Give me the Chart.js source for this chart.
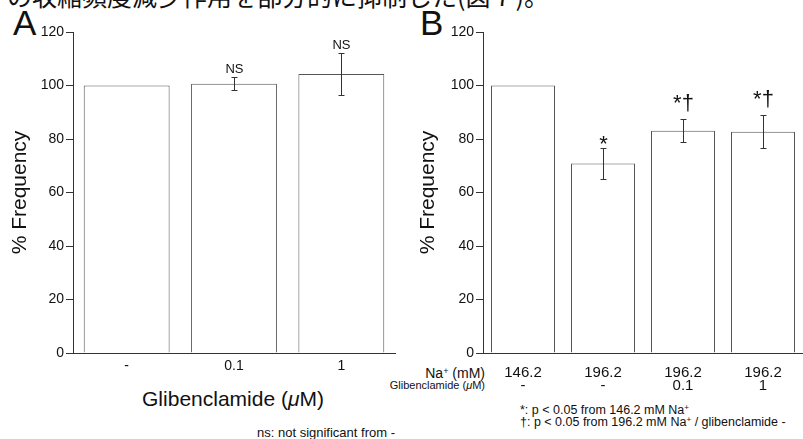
<!DOCTYPE html>
<html>
<head>
<meta charset="utf-8">
<script src="https://cdn.jsdelivr.net/npm/chart.js@4.4.0/dist/chart.umd.min.js"></script>
<style>
    body { margin: 0; background: #fff; width: 803px; height: 439px; overflow: hidden; position: relative;
           font-family: "Liberation Sans", Arial, sans-serif; color: #111; }
    canvas { position: absolute; top: 0; }
    .t { position: absolute; white-space: nowrap; line-height: 1; }
    .sup { font-size: 0.65em; position: relative; top: -0.45em; }
</style>
</head>
<body>
<div class="t" style="left:7px; top:-17px; font-size:25px; font-family:'Noto Sans CJK JP';">の収縮頻度減少作用を部分的に抑制した(図７)。</div>
<div class="t" style="left:13px; top:5px; font-size:35px;">A</div>
<div class="t" style="left:420px; top:5px; font-size:35px;">B</div>
<div class="t" style="left:233px; top:388px; font-size:21px; transform:translateX(-50%);">Glibenclamide (<i>μ</i>M)</div>
<div class="t" style="right:408px; top:426px; font-size:13px;">ns: not significant from -</div>
<div class="t" style="right:318px; top:366px; font-size:14px;">Na<span class="sup">+</span> (mM)</div>
<div class="t" style="right:318px; top:380px; font-size:11px;">Glibenclamide (<i>μ</i>M)</div>
<div class="t" style="left:520px; top:404px; font-size:12.5px;">*: p &lt; 0.05 from 146.2 mM Na<span class="sup">+</span></div>
<div class="t" style="left:520px; top:415.5px; font-size:12.5px;">†: p &lt; 0.05 from 196.2 mM Na<span class="sup">+</span> / glibenclamide -</div>

<canvas id="panelA" width="400" height="439" style="left:0"></canvas>
<canvas id="panelB" width="403" height="439" style="left:400px"></canvas>

<script>
// panel A: glibenclamide alone
const glibDoses = ["-", "0.1", "1"];
const freqA = [100, 100.7, 104.3];
const errA = [0, 2.3, 7.7];
const sigA = ["", "NS", "NS"];

// panel B: high Na+ with glibenclamide
const naConc = ["146.2", "196.2", "196.2", "196.2"];
const glibB = ["-", "-", "0.1", "1"];
const freqB = [100, 70.8, 83.1, 82.7];
const errB = [0, 5.9, 4.2, 6.2];
const sigB = ["", "*", "*†", "*†"];

const yMin = 0, yMax = 120, yStep = 20;

Chart.defaults.font.family = "'Liberation Sans', Arial, sans-serif";
Chart.defaults.color = "#111";

function marksPlugin(errs, sigs, sigFont) {
    return {
        id: "marks",
        afterDatasetsDraw(chart) {
            const ctx = chart.ctx;
            const y = chart.scales.y;
            const values = chart.data.datasets[0].data;
            chart.getDatasetMeta(0).data.forEach((bar, i) => {
                const e = errs[i];
                const x = Math.round(bar.x) + 0.5;
                const top = Math.round(y.getPixelForValue(values[i] + e)) + 0.5;
                ctx.save();
                if (e > 0) {
                    const bot = Math.round(y.getPixelForValue(values[i] - e)) + 0.5;
                    ctx.strokeStyle = "#333";
                    ctx.lineWidth = 1;
                    ctx.beginPath();
                    ctx.moveTo(x, top); ctx.lineTo(x, bot);
                    ctx.moveTo(x - 3, top); ctx.lineTo(x + 3, top);
                    ctx.moveTo(x - 3, bot); ctx.lineTo(x + 3, bot);
                    ctx.stroke();
                }
                if (sigs[i]) {
                    ctx.fillStyle = "#111";
                    ctx.font = sigFont;
                    ctx.textAlign = "center";
                    ctx.textBaseline = "alphabetic";
                    // dagger hangs below baseline, lift it clear of the cap
                    let lift = 5;
                    if (sigs[i].includes("†")) lift = 10;
                    else if (sigs[i] === "*") lift = -2;
                    ctx.fillText(sigs[i], x, top - lift);
                }
                ctx.restore();
            });
        },
    };
}

function makeChart(id, labels, values, errs, sigs, opts) {
    const ctx = document.getElementById(id).getContext("2d");
    return new Chart(ctx, {
        type: "bar",
        data: {
            labels: labels,
            datasets: [
                {
                    data: values,
                    backgroundColor: "#fff",
                    borderColor: "#555",
                    borderWidth: 1,
                    categoryPercentage: 1,
                    barPercentage: 0.8,
                },
            ],
        },
        options: {
            responsive: false,
            animation: false,
            layout: { padding: { top: 32, right: opts.right, left: 0, bottom: 0 } },
            plugins: {
                legend: { display: false },
                tooltip: { enabled: false },
            },
            scales: {
                x: {
                    grid: { display: false, drawTicks: false },
                    border: { display: true, color: "#333" },
                    ticks: { font: { size: opts.xFont, lineHeight: 0.9 }, padding: opts.xPad, maxRotation: 0, autoSkip: false },
                    afterFit: (scale) => { scale.height = 86; },
                },
                y: {
                    min: yMin,
                    max: yMax,
                    ticks: { stepSize: yStep, font: { size: 14 }, padding: 2 },
                    grid: { drawOnChartArea: false, drawTicks: true, tickLength: 7, color: "#333" },
                    border: { color: "#333" },
                    title: {
                        display: true,
                        text: "% Frequency",
                        font: { size: 21 },
                        padding: { top: opts.titlePad, bottom: 0 },
                    },
                    afterFit: (scale) => { scale.width = opts.axisX; },
                },
            },
        },
        plugins: [marksPlugin(errs, sigs, opts.sigFont)],
    });
}

makeChart("panelA", glibDoses, freqA, errA, sigA, {
    right: 5, axisX: 73, titlePad: 8, xFont: 14, xPad: 7, sigFont: "13px 'Liberation Sans', Arial, sans-serif",
});

makeChart("panelB", naConc.map((na, i) => [na, glibB[i]]), freqB, errB, sigB, {
    right: 0, axisX: 83, titlePad: 16, xFont: 15, xPad: 13, sigFont: "22px 'Liberation Sans', Arial, sans-serif",
});
</script>
</body>
</html>
